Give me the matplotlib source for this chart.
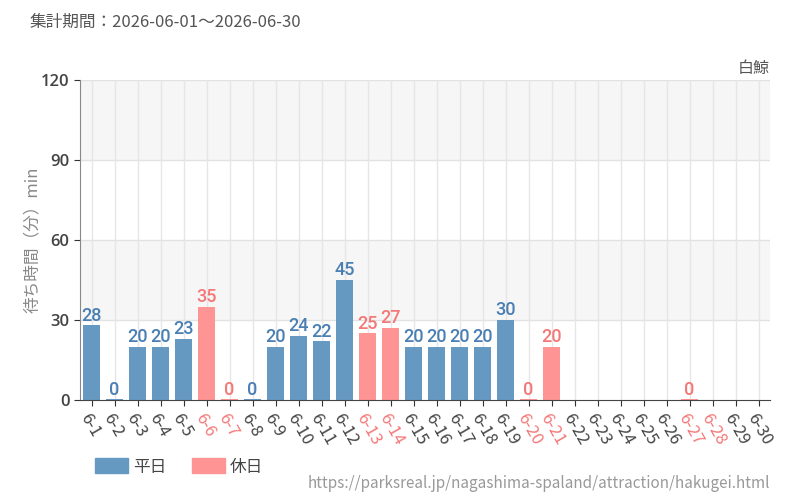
import matplotlib
matplotlib.use("Agg")
import matplotlib.pyplot as plt
from matplotlib.patches import Patch

plt.rcParams['font.family'] = ['Noto Sans CJK JP', 'DejaVu Sans']

days = [f"6-{d}" for d in range(1, 31)]
# None = no data
values = [28, 0, 20, 20, 23, 35, 0, 0, 20, 24, 22, 45, 25, 27, 20, 20, 20, 20, 30, 0, 20,
          None, None, None, None, None, 0, None, None, None]
holiday = [False, False, False, False, False, True, True, False, False, False, False, False, True, True,
           False, False, False, False, False, True, True, False, False, False, False, False, True, True,
           False, False]
yticks = [0, 30, 60, 90, 120]

c_week, c_hol = '#6699c2', '#ff9494'
t_week, t_hol = '#4a7fb3', '#f47878'

fig = plt.figure(figsize=(8, 5), dpi=100)
ax = fig.add_axes([0.1, 0.2, 0.8625, 0.64])
ax.set_xlim(-0.5, 29.5)
ax.set_ylim(0, 120)

for lo, hi, col in [(0, 30, 'white'), (30, 60, '#f6f6f6'), (60, 90, 'white'), (90, 120, '#f6f6f6')]:
    ax.axhspan(lo, hi, color=col, zorder=0, lw=0)
for y in yticks[1:]:
    ax.axhline(y, color='#e2e2e2', lw=1, zorder=1)
for i in range(len(days)):
    ax.axvline(i, color='#e6e6e6', lw=1, zorder=1)

for i, (v, h) in enumerate(zip(values, holiday)):
    if v is None:
        continue
    col = c_hol if h else c_week
    ax.bar(i, max(v, 0.5), width=0.78, color=col, zorder=2)
    ax.text(i, v + 0.3, str(v), ha='center', va='bottom', fontsize=13,
            color=t_hol if h else t_week, family='Roboto', fontweight='medium', zorder=3)

ax.set_xticks(range(len(days)))
ax.set_xticklabels(days, rotation=-60, ha='left', rotation_mode='anchor', fontsize=12)
for lbl, h in zip(ax.get_xticklabels(), holiday):
    lbl.set_color(t_hol if h else '#444444')
ax.set_yticks(yticks)
ax.set_yticklabels([str(y) for y in yticks], fontsize=12, color='#444444', fontweight='semibold',
                   family='Open Sans')
ax.tick_params(axis='x', length=4, color='#333333')
ax.tick_params(axis='y', length=4, color='#333333')
for s in ['top', 'right']:
    ax.spines[s].set_visible(False)
ax.spines['left'].set_color('#888888')
ax.spines['bottom'].set_color('#444444')

fig.text(0.04, 0.2 + 0.32, '待ち時間（分）min', rotation=90, va='center', ha='center',
         fontsize=12, color='#888888')
fig.text(0.0375, 0.955, '集計期間：2026-06-01～2026-06-30', fontsize=12, color='#555555', va='center')
fig.text(0.9625, 0.862, '白鯨', fontsize=11.5, color='#555555', ha='right', va='center')

handles = [Patch(color=c_week, label='平日'), Patch(color=c_hol, label='休日')]
fig.legend(handles=handles, loc='center left', bbox_to_anchor=(0.1, 0.066), ncol=2, frameon=False,
           fontsize=12, handlelength=2.0, handleheight=1.0, handletextpad=0.3, columnspacing=1.5,
           labelcolor='#444444')
fig.text(0.9625, 0.034, 'https://parksreal.jp/nagashima-spaland/attraction/hakugei.html',
         fontsize=11, color='#999999', ha='right', va='center')

fig.savefig('out.png', dpi=100)
